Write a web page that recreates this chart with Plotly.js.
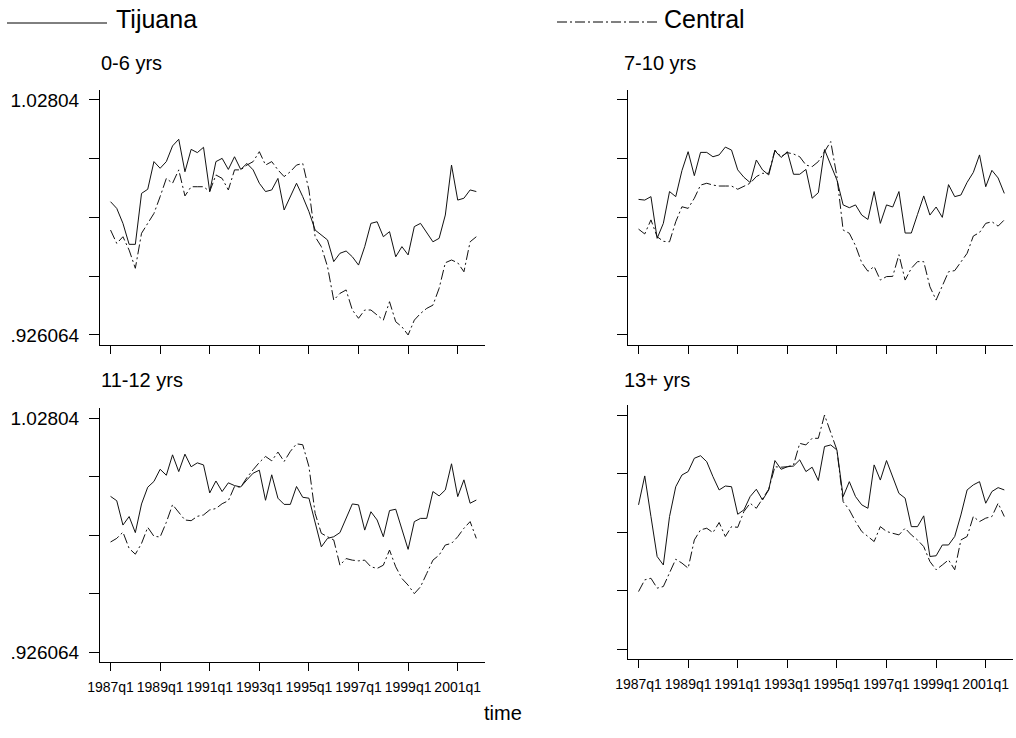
<!DOCTYPE html>
<html>
<head>
<meta charset="utf-8">
<script src="https://cdn.plot.ly/plotly-3.0.1.min.js"></script>
<style>html,body{margin:0;padding:0;background:#fff;}#chart{width:1016px;height:738px;}</style>
</head>
<body>
<div id="chart"></div>
<script>
// Quarterly periods 1987q1 .. 2001q4
const quarters = [];
for (let yr = 1987; yr <= 2001; yr++) { for (let q = 1; q <= 4; q++) quarters.push(yr + 'q' + q); }

const panelTitles = ['0-6 yrs', '7-10 yrs', '11-12 yrs', '13+ yrs'];
const seriesNames = ['Tijuana', 'Central'];
const xTickLabels = ['1987q1','1989q1','1991q1','1993q1','1995q1','1997q1','1999q1','2001q1'];
const yTickVals = [0.926064, 0.951558, 0.977052, 1.002546, 1.02804];
const yTickText = ['.926064', '', '', '', '1.02804'];

const tij_0_6 = [
 0.9839,0.9810,0.9745,0.9654,0.9654,0.9875,0.9893,1.0013,0.9984,1.0013,
 1.0081,1.0110,0.9969,1.0066,1.0052,1.0075,0.9883,1.0013,1.0027,0.9979,
 1.0034,0.9979,1.0005,0.9977,0.9919,0.9883,0.9890,0.9940,0.9803,0.9861,
 0.9919,0.9861,0.9796,0.9716,0.9694,0.9673,0.9579,0.9615,0.9625,0.9600,
 0.9564,0.9644,0.9745,0.9752,0.9687,0.9709,0.9600,0.9644,0.9608,0.9731,
 0.9745,0.9702,0.9665,0.9680,0.9781,0.9998,0.9846,0.9854,0.9890,0.9883];
const cen_0_6 = [
 0.9716,0.9658,0.9687,0.9629,0.9550,0.9702,0.9745,0.9788,0.9861,0.9940,
 0.9919,0.9977,0.9864,0.9904,0.9904,0.9904,0.9883,0.9955,0.9940,0.9890,
 0.9977,0.9977,0.9998,1.0013,1.0056,0.9998,1.0013,0.9977,0.9948,0.9969,
 0.9998,1.0005,0.9890,0.9687,0.9644,0.9557,0.9412,0.9441,0.9456,0.9369,
 0.9333,0.9369,0.9369,0.9347,0.9325,0.9405,0.9318,0.9296,0.926064,0.9325,
 0.9354,0.9376,0.9390,0.9463,0.9574,0.9586,0.9574,0.9535,0.9665,0.9687];
const tij_7_10 = [
 0.9849,0.9846,0.9861,0.9680,0.9745,0.9883,0.9861,0.9974,1.0056,0.9952,
 1.0053,1.0053,1.0034,1.0042,1.0076,1.0063,0.9977,0.9945,0.9922,1.0020,
 0.9977,0.9955,1.0060,1.0031,1.0056,0.9958,0.9958,0.9979,0.9854,0.9878,
 1.0065,0.9998,0.9933,0.9825,0.9813,0.9825,0.9781,0.9762,0.9883,0.9745,
 0.9825,0.9816,0.9883,0.9703,0.9703,0.9784,0.9864,0.9781,0.9816,0.9771,
 0.9913,0.9861,0.9868,0.9923,0.9966,1.0042,0.9904,0.9975,0.9942,0.9875];
const cen_7_10 = [
 0.9720,0.9699,0.9760,0.9687,0.9667,0.9665,0.9752,0.9817,0.9810,0.9854,
 0.9911,0.9919,0.9911,0.9907,0.9907,0.9907,0.9893,0.9907,0.9919,0.9948,
 0.9962,0.9962,1.0063,1.0034,1.0052,1.0046,1.0034,0.9998,0.9991,1.0013,
 1.0056,1.0100,0.9948,0.9716,0.9702,0.9648,0.9574,0.9537,0.9558,0.9499,
 0.9514,0.9515,0.9609,0.9499,0.9550,0.9579,0.9579,0.9470,0.9412,0.9473,
 0.9535,0.9540,0.9579,0.9615,0.9690,0.9705,0.9745,0.9752,0.9733,0.9760];
const tij_11_12 = [
 0.9939,0.9920,0.9814,0.9851,0.9781,0.9906,0.9979,1.0004,1.0057,1.0031,
 1.0120,1.0047,1.0123,1.0068,1.0085,1.0076,0.9954,1.0006,0.9960,0.9998,
 0.9986,0.9980,1.0011,1.0040,1.0053,0.9922,1.0033,0.9931,0.9904,0.9904,
 0.9982,0.9935,0.9931,0.9829,0.9719,0.9756,0.9763,0.9781,0.9843,0.9906,
 0.9902,0.9792,0.9872,0.9836,0.9763,0.9877,0.9883,0.9792,0.9708,0.9829,
 0.9843,0.9843,0.9960,0.9941,0.9967,1.0081,0.9938,1.0011,0.9909,0.9923];
const cen_11_12 = [
 0.9740,0.9756,0.9783,0.9712,0.9687,0.9734,0.9804,0.9765,0.9762,0.9826,
 0.9903,0.9868,0.9836,0.9833,0.9852,0.9858,0.9880,0.9886,0.9907,0.9920,
 0.9982,0.9979,1.0021,1.0055,1.0087,1.0113,1.0094,1.0132,1.0091,1.0135,
 1.0168,1.0164,1.0069,0.9865,0.9778,0.9763,0.9749,0.9639,0.9668,0.9661,
 0.9658,0.9661,0.9632,0.9625,0.9639,0.9705,0.9632,0.9581,0.9552,0.9515,
 0.9545,0.9603,0.9661,0.9683,0.9727,0.9734,0.9763,0.9800,0.9829,0.9756];
const tij_13p = [
 0.9889,1.0015,0.9838,0.9664,0.9627,0.9838,0.9968,1.0019,1.0034,1.0092,
 1.0103,1.0077,1.0012,0.9954,0.9971,0.9968,0.9848,0.9867,0.9925,0.9957,
 0.9910,0.9954,1.0082,1.0044,1.0055,1.0058,1.0085,1.0034,1.0053,0.9995,
 1.0143,1.0150,1.0128,0.9925,0.9990,0.9925,0.9889,0.9874,1.0063,0.9997,
 1.0082,1.0012,0.9939,0.9918,0.9794,0.9794,0.9841,0.9664,0.9667,0.9714,
 0.9714,0.9751,0.9845,0.9954,0.9976,0.9990,0.9896,0.9947,0.9964,0.9954];
const cen_13p = [
 0.9511,0.9562,0.9569,0.9526,0.9533,0.9594,0.9652,0.9635,0.9613,0.9736,
 0.9780,0.9787,0.9768,0.9812,0.9751,0.9794,0.9791,0.9860,0.9896,0.9874,
 0.9918,0.9957,1.0055,1.0053,1.0055,1.0063,1.0157,1.0150,1.0179,1.0179,
 1.02804,1.0201,1.0128,0.9903,0.9867,0.9816,0.9773,0.9751,0.9729,0.9794,
 0.9773,0.9765,0.9758,0.9787,0.9758,0.9736,0.9707,0.9642,0.9606,0.9627,
 0.9649,0.9606,0.9736,0.9751,0.9838,0.9816,0.9831,0.9838,0.9896,0.9838];

const tijSeries = [tij_0_6, tij_7_10, tij_11_12, tij_13p];
const cenSeries = [cen_0_6, cen_7_10, cen_11_12, cen_13p];

const W = 1016, H = 738;
const px = v => v / W, py = v => 1 - v / H;
const FONT = '"Liberation Sans", Arial, Helvetica, sans-serif';
const DASHDOT = '10px,3px,2px,3px';
const LINECOL = '#111';

const xIdx = quarters.map((q, i) => i);
const xTickVals = xTickLabels.map(l => quarters.indexOf(l));

// panel geometry (pixels): [left, right, top, bottom]
const geo = [
  [100, 485, 89.7, 344.8],
  [628, 1013, 89.7, 344.8],
  [100, 485, 407.8, 661.8],
  [628, 1013, 404.8, 658.8]
];

const traces = [];
const layout = {
  width: W, height: H,
  margin: {l: 0, r: 0, t: 0, b: 0},
  paper_bgcolor: '#fff', plot_bgcolor: '#fff',
  showlegend: false,
  font: {family: FONT, color: '#000', size: 18},
  shapes: [], annotations: []
};

for (let p = 0; p < 4; p++) {
  const xa = p === 0 ? 'x' : 'x' + (p + 1);
  const ya = p === 0 ? 'y' : 'y' + (p + 1);
  traces.push({x: xIdx, y: cenSeries[p], xaxis: xa, yaxis: ya, type: 'scatter', mode: 'lines',
    name: seriesNames[1], line: {color: LINECOL, width: 1, dash: DASHDOT}, hoverinfo: 'skip'});
  traces.push({x: xIdx, y: tijSeries[p], xaxis: xa, yaxis: ya, type: 'scatter', mode: 'lines',
    name: seriesNames[0], line: {color: LINECOL, width: 1}, hoverinfo: 'skip'});
  const g = geo[p];
  const bottomRow = p >= 2, leftCol = (p % 2) === 0;
  layout[p === 0 ? 'xaxis' : 'xaxis' + (p + 1)] = {
    domain: [px(g[0]), px(g[1])], anchor: ya, range: [-1.7, 60.4],
    showline: true, linecolor: '#000', linewidth: 1, mirror: false,
    ticks: 'outside', ticklen: 8, tickwidth: 1, tickcolor: '#000',
    tickmode: 'array', tickvals: xTickVals, ticktext: xTickLabels, tickangle: 0,
    ticklabelstandoff: 4,
    showticklabels: bottomRow, tickfont: {size: 14, family: FONT, color: '#000'},
    showgrid: false, zeroline: false, fixedrange: true
  };
  layout[p === 0 ? 'yaxis' : 'yaxis' + (p + 1)] = {
    domain: [py(g[3]), py(g[2])], anchor: xa, range: [0.9218, 1.0325],
    showline: true, linecolor: '#000', linewidth: 1,
    ticks: 'outside', ticklen: 10, tickwidth: 1, tickcolor: '#000',
    tickmode: 'array', tickvals: yTickVals, ticktext: yTickText,
    showticklabels: leftCol, ticklabelstandoff: 6, tickfont: {size: 19, family: FONT, color: '#000'},
    showgrid: false, zeroline: false, fixedrange: true
  };
  layout.annotations.push({
    xref: 'paper', yref: 'paper', x: px(leftCol ? 99 : 622), y: py(bottomRow ? 380 : 63),
    xanchor: 'left', yanchor: 'middle', showarrow: false, text: panelTitles[p],
    font: {size: 20, family: FONT, color: '#000'}
  });
}

// Legend (drawn manually to reproduce the long key lines)
layout.shapes.push({type: 'line', xref: 'paper', yref: 'paper', x0: px(7), x1: px(107), y0: py(23), y1: py(23),
  line: {color: '#000', width: 1}});
layout.shapes.push({type: 'line', xref: 'paper', yref: 'paper', x0: px(557), x1: px(657), y0: py(22), y1: py(22),
  line: {color: '#000', width: 1, dash: DASHDOT}});
layout.annotations.push({xref: 'paper', yref: 'paper', x: px(114), y: py(19), xanchor: 'left', yanchor: 'middle',
  showarrow: false, text: seriesNames[0], font: {size: 25, family: FONT, color: '#000'}});
layout.annotations.push({xref: 'paper', yref: 'paper', x: px(662), y: py(19), xanchor: 'left', yanchor: 'middle',
  showarrow: false, text: seriesNames[1], font: {size: 25, family: FONT, color: '#000'}});

// shared x-axis title
layout.annotations.push({xref: 'paper', yref: 'paper', x: px(503), y: py(713), xanchor: 'center', yanchor: 'middle',
  showarrow: false, text: 'time', font: {size: 20, family: FONT, color: '#000'}});

Plotly.newPlot('chart', traces, layout, {staticPlot: true, displayModeBar: false});
</script>
</body>
</html>
